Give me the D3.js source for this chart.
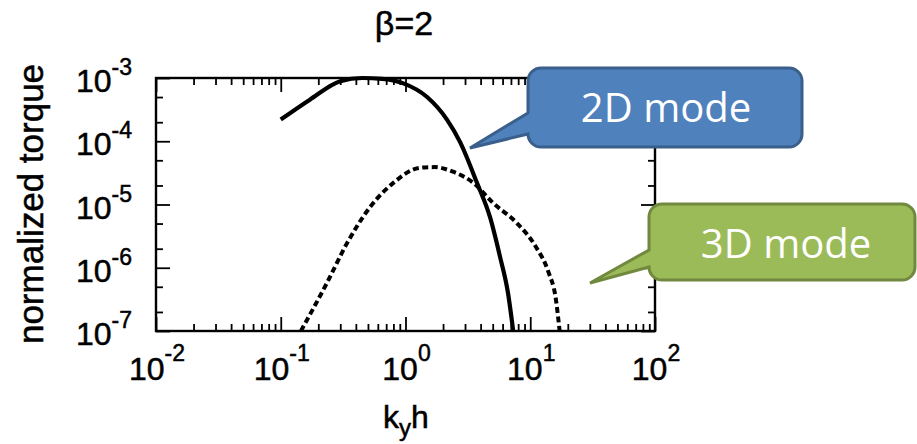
<!DOCTYPE html>
<html>
<head>
<meta charset="utf-8">
<title>Normalized torque, beta=2</title>
<script src="https://cdn.jsdelivr.net/npm/d3@7"></script>
<style>
  body { margin: 0; background: #fff; }
  svg text { font-family: "Liberation Sans", Arial, Helvetica, sans-serif; fill: #000; }
  .plain text { stroke: #000; stroke-width: 0.5px; }
  .callout text { font-family: "Open Sans", sans-serif; fill: #fff; }
</style>
</head>
<body>
<svg id="chart" width="917" height="444"></svg>
<script>
// 2D mode (solid)
var kSolid = [0.10, 0.17, 0.30, 0.45, 0.65, 0.95, 1.49, 2.15, 2.74, 3.74, 4.76, 5.72, 6.63, 7.3];
var tSolid = [2.2e-4, 4.5e-4, 8.9e-4, 1.0e-3, 9.7e-4, 8.3e-4, 5.0e-4, 2.2e-4, 9.7e-5, 2.2e-5, 6.3e-6, 1.5e-6, 4.0e-7, 1.0e-7];
// 3D mode (dashed)
var kDashed = [0.145, 0.235, 0.34, 0.52, 0.8, 1.3, 1.7, 2.4, 3.5, 5.0, 7.8, 11, 14, 16, 17.2];
var tDashed = [1.0e-7, 5.8e-7, 2.45e-6, 9.1e-6, 2.2e-5, 3.8e-5, 3.9e-5, 3.3e-5, 2.2e-5, 1.07e-5, 5.1e-6, 2.2e-6, 8.5e-7, 3.3e-7, 1.0e-7];

var xExponents = [-2, -1, 0, 1, 2];
var yExponents = [-7, -6, -5, -4, -3];
var xMinorMult = [2, 3, 4, 5, 6, 7, 8, 9];
var yMinorMult = [2, 5];

var title = 'β=2';
var xLabel = ['k', 'y', 'h'];
var yLabel = 'normalized torque';
var callouts = [
  { text: '2D mode', fill: '#4f81bd', stroke: '#3a5f8b' },
  { text: '3D mode', fill: '#9bbb59', stroke: '#71893f' }
];

var svg = d3.select('#chart');
var plot = svg.append('g').attr('class', 'plain');
var pL = 156, pR = 655, pT = 78, pB = 331;

var x = d3.scaleLog().domain([1e-2, 1e2]).range([pL, pR]);
var y = d3.scaleLog().domain([1e-7, 1e-3]).range([pB, pT]);

var xMajor = xExponents.map(function (e) { return Math.pow(10, e); });
var yMajor = yExponents.map(function (e) { return Math.pow(10, e); });
var xMinor = [], yMinor = [];
xExponents.slice(0, -1).forEach(function (e) {
  xMinorMult.forEach(function (m) { xMinor.push(m * Math.pow(10, e)); });
});
yExponents.slice(0, -1).forEach(function (e) {
  yMinorMult.forEach(function (m) { yMinor.push(m * Math.pow(10, e)); });
});

// ticks, all pointing inward
function ticks(axis, vals, size, tx, ty) {
  plot.append('g')
    .attr('transform', 'translate(' + tx + ',' + ty + ')')
    .call(axis.tickValues(vals).tickSize(size).tickSizeOuter(0).tickFormat(''))
    .call(function (g) { g.select('.domain').remove(); })
    .selectAll('line').attr('stroke', '#000').attr('stroke-width', 1.8);
}
ticks(d3.axisBottom(x), xMajor, -14, 0, pB);
ticks(d3.axisBottom(x), xMinor, -7, 0, pB);
ticks(d3.axisTop(x), xMajor, -14, 0, pT);
ticks(d3.axisTop(x), xMinor, -7, 0, pT);
ticks(d3.axisLeft(y), yMajor, -14, pL, 0);
ticks(d3.axisLeft(y), yMinor, -7, pL, 0);
ticks(d3.axisRight(y), yMajor, -14, pR, 0);
ticks(d3.axisRight(y), yMinor, -7, pR, 0);

plot.append('rect')
  .attr('x', pL).attr('y', pT)
  .attr('width', pR - pL).attr('height', pB - pT)
  .attr('fill', 'none').attr('stroke', '#000').attr('stroke-width', 2.4);

// tick labels
var xl = plot.append('g').selectAll('text').data(xExponents).join('text')
  .attr('x', function (e) { return x(Math.pow(10, e)) + 1; })
  .attr('y', pB + 49)
  .attr('text-anchor', 'middle')
  .style('font-size', '32px')
  .text('10');
xl.append('tspan').attr('dy', -19).style('font-size', '23px').text(function (e) { return e; });

var yl = plot.append('g').selectAll('text').data(yExponents).join('text')
  .attr('x', 132)
  .attr('y', function (e) { return y(Math.pow(10, e)) + 14; })
  .attr('text-anchor', 'end')
  .style('font-size', '32px')
  .text('10');
yl.append('tspan').attr('dy', -17).style('font-size', '23px').text(function (e) { return e; });

// titles
plot.append('text').attr('x', 404).attr('y', 35).attr('text-anchor', 'middle')
  .style('font-size', '34px').text(title);

var xt = plot.append('text').attr('x', 406).attr('y', 428).attr('text-anchor', 'middle')
  .style('font-size', '32px');
xt.append('tspan').text(xLabel[0]);
xt.append('tspan').attr('dy', 8).style('font-size', '24px').text(xLabel[1]);
xt.append('tspan').attr('dy', -8).text(xLabel[2]);

plot.append('text')
  .attr('transform', 'translate(43,204) rotate(-90)')
  .attr('text-anchor', 'middle')
  .style('font-size', '35px')
  .text(yLabel);

// curves
svg.append('clipPath').attr('id', 'plot-clip')
  .append('rect').attr('x', pL).attr('y', pT - 3)
  .attr('width', pR - pL).attr('height', pB - pT + 3);

var line = d3.line()
  .x(function (d) { return x(d[0]); })
  .y(function (d) { return y(d[1]); })
  .curve(d3.curveMonotoneX);

plot.append('path')
  .datum(d3.zip(kSolid, tSolid))
  .attr('clip-path', 'url(#plot-clip)')
  .attr('d', line)
  .attr('fill', 'none').attr('stroke', '#000').attr('stroke-width', 4.2);

plot.append('path')
  .datum(d3.zip(kDashed, tDashed))
  .attr('clip-path', 'url(#plot-clip)')
  .attr('d', line)
  .attr('fill', 'none').attr('stroke', '#000').attr('stroke-width', 4)
  .attr('stroke-dasharray', '6,3.5');

// callout shapes (rounded box with a wedge pointing left)
function calloutPath(x0, y0, x1, y1, r, wTop, tipX, tipY) {
  return 'M' + (x0 + r) + ',' + y0 +
    'H' + (x1 - r) + 'A' + r + ',' + r + ' 0 0 1 ' + x1 + ',' + (y0 + r) +
    'V' + (y1 - r) + 'A' + r + ',' + r + ' 0 0 1 ' + (x1 - r) + ',' + y1 +
    'H' + (x0 + r) + 'A' + r + ',' + r + ' 0 0 1 ' + x0 + ',' + (y1 - r) +
    'L' + tipX + ',' + tipY + 'L' + x0 + ',' + wTop +
    'V' + (y0 + r) + 'A' + r + ',' + r + ' 0 0 1 ' + (x0 + r) + ',' + y0 + 'Z';
}

var c1 = svg.append('g').attr('class', 'callout');
c1.append('path').attr('d', calloutPath(528, 68, 802, 147, 13, 113, 470, 148))
  .attr('fill', callouts[0].fill).attr('stroke', callouts[0].stroke).attr('stroke-width', 3);
c1.append('text').attr('x', 666).attr('y', 122).attr('text-anchor', 'middle')
  .style('font-size', '40px').text(callouts[0].text);

var c2 = svg.append('g').attr('class', 'callout');
c2.append('path').attr('d', calloutPath(649, 204, 915, 280, 13, 250, 590, 283))
  .attr('fill', callouts[1].fill).attr('stroke', callouts[1].stroke).attr('stroke-width', 3);
c2.append('text').attr('x', 786).attr('y', 258).attr('text-anchor', 'middle')
  .style('font-size', '40px').text(callouts[1].text);
</script>
</body>
</html>
